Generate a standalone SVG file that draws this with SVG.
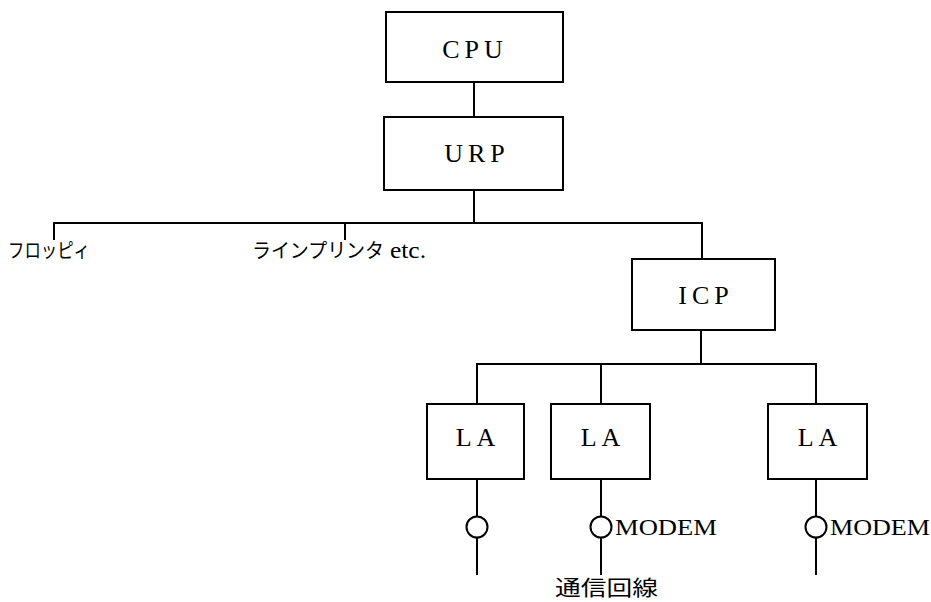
<svg xmlns="http://www.w3.org/2000/svg" width="931" height="602" viewBox="0 0 931 602">
<style>
.box{fill:#fff;stroke:#000;stroke-width:2}
.ln{fill:none;stroke:#000;stroke-width:2}
.lbl{font-family:"Liberation Serif","Noto Sans CJK JP",serif;font-size:26px;fill:#000;text-anchor:middle;letter-spacing:5px}
.jp{font-family:"Noto Sans CJK JP",sans-serif;font-size:20px;fill:#000}
.mod{font-family:"Liberation Serif",serif;font-size:24px;fill:#000}
</style>
<rect width="931" height="602" fill="#fff"/>
<g id="connectors">
<path class="ln" d="M474 82V117"/>
<path class="ln" d="M474 190V223"/>
<path class="ln" d="M54 240V223H702V259"/>
<path class="ln" d="M345 223V240"/>
<path class="ln" d="M701 330V364"/>
<path class="ln" d="M477 404V364H816V404"/>
<path class="ln" d="M601 364V404"/>
<path class="ln" d="M477 479V516M477 538V575"/>
<path class="ln" d="M601 479V516M601 538V575"/>
<path class="ln" d="M816 479V516M816 538V575"/>
</g>
<g id="cpu"><rect class="box" x="386" y="12" width="177" height="70"/><text class="lbl" x="475" y="58">CPU</text></g>
<g id="urp"><rect class="box" x="384" y="117" width="179" height="73"/><text class="lbl" x="477" y="162">URP</text></g>
<g id="floppy"><text class="jp" x="8" y="258" textLength="82" lengthAdjust="spacingAndGlyphs">フロッピィ</text></g>
<g id="printer"><text class="jp" x="252" y="258" textLength="132" lengthAdjust="spacingAndGlyphs">ラインプリンタ</text><text class="mod" x="390" y="258" textLength="36" lengthAdjust="spacingAndGlyphs">etc.</text></g>
<g id="icp"><rect class="box" x="632" y="259" width="143" height="71"/><text class="lbl" x="706" y="304">ICP</text></g>
<g id="la1"><rect class="box" x="427" y="404" width="97" height="75"/><text class="lbl" x="478" y="446">LA</text></g>
<g id="la2"><rect class="box" x="551" y="404" width="99" height="75"/><text class="lbl" x="603" y="446">LA</text></g>
<g id="la3"><rect class="box" x="768" y="404" width="99" height="75"/><text class="lbl" x="820" y="446">LA</text></g>
<g id="modem1"><circle class="ln" cx="477" cy="527" r="10.5"/></g>
<g id="modem2"><circle class="ln" cx="601" cy="527" r="10.5"/><text class="mod" x="615" y="535" textLength="102" lengthAdjust="spacingAndGlyphs">MODEM</text></g>
<g id="modem3"><circle class="ln" cx="816" cy="527" r="10.5"/><text class="mod" x="830" y="535" textLength="100" lengthAdjust="spacingAndGlyphs">MODEM</text></g>
<g id="line-label"><text class="jp" x="555" y="595" style="font-size:21px" textLength="103" lengthAdjust="spacingAndGlyphs">通信回線</text></g>
</svg>
